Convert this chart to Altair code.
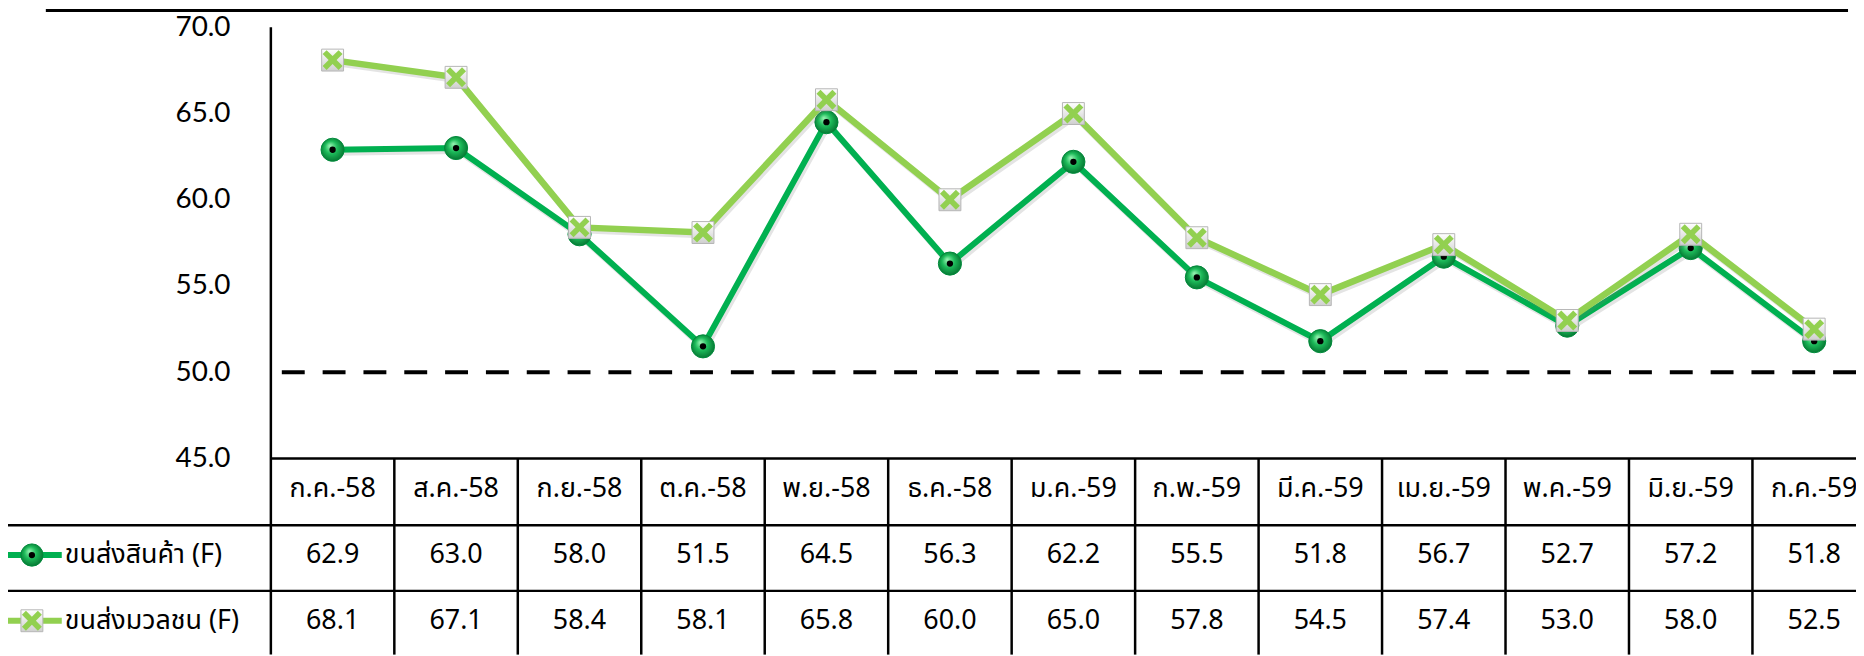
import altair as alt
import pandas as pd

# ---- data ----
months = ["ก.ค.-58", "ส.ค.-58", "ก.ย.-58", "ต.ค.-58", "พ.ย.-58", "ธ.ค.-58", "ม.ค.-59",
          "ก.พ.-59", "มี.ค.-59", "เม.ย.-59", "พ.ค.-59", "มิ.ย.-59", "ก.ค.-59"]
cargo = [62.9, 63.0, 58.0, 51.5, 64.5, 56.3, 62.2, 55.5, 51.8, 56.7, 52.7, 57.2, 51.8]
passenger = [68.1, 67.1, 58.4, 58.1, 65.8, 60.0, 65.0, 57.8, 54.5, 57.4, 53.0, 58.0, 52.5]
series_names = ["ขนส่งสินค้า (F)", "ขนส่งมวลชน (F)"]
y_ticks = [45, 50, 55, 60, 65, 70]
threshold = [50]

# ---- layout / style ----
W, H = 1592, 433
COL = 124
DARK = "#00B050"
LIGHT = "#92D050"
THAI = "Tahoma, 'Noto Sans Thai', 'Noto Sans', 'DejaVu Sans', sans-serif"
NUM = "'Noto Sans', Tahoma, sans-serif"
ROW_Y = [530, 596]
HEAD_Y = 464

idx = list(range(len(months)))
df_c = pd.DataFrame({"i": idx, "month": months, "v": cargo})
df_p = pd.DataFrame({"i": idx, "month": months, "v": passenger})
df_sep = pd.DataFrame({"b": [k + 0.5 for k in idx[:-1]]})
df_thr = pd.DataFrame({"v": threshold})
one = pd.DataFrame({"k": [0]})

xs = alt.Scale(domain=[-0.5, -0.5 + W / COL], nice=False, zero=False)
ys = alt.Scale(domain=[y_ticks[0], y_ticks[-1]], nice=False, zero=False)
yaxis = alt.Axis(values=y_ticks, format=".1f", labelFont="Lato", labelFontSize=28,
                 labelColor="black", labelPadding=41, domain=False, ticks=False,
                 grid=False, title=None)
X = alt.X("i:Q", scale=xs, axis=None)
Y = alt.Y("v:Q", scale=ys, axis=yaxis)

circle_fill = {"gradient": "radial",
               "stops": [{"offset": 0, "color": "#9af5b4"},
                         {"offset": 0.45, "color": "#1dbb5a"},
                         {"offset": 1, "color": "#006428"}],
               "x1": 0.38, "y1": 0.32, "r1": 0, "x2": 0.5, "y2": 0.5, "r2": 0.6}
square_fill = {"gradient": "linear",
               "stops": [{"offset": 0, "color": "#ffffff"},
                         {"offset": 1, "color": "#cfcfcf"}],
               "x1": 0, "y1": 0, "x2": 0, "y2": 1}
XPATH = "M-1,-0.6L-0.6,-1L0,-0.4L0.6,-1L1,-0.6L0.4,0L1,0.6L0.6,1L0,0.4L-0.6,1L-1,0.6L-0.4,0Z"

layers = []

# threshold dashed line
layers.append(alt.Chart(df_thr).mark_rule(color="black", strokeWidth=4, strokeDash=[23, 18])
              .encode(y=alt.Y("v:Q", scale=ys, axis=yaxis)))

# cargo series
c_base = alt.Chart(df_c).encode(x=X, y=Y)
layers.append(c_base.mark_line(color="#777777", strokeWidth=6, opacity=0.2, xOffset=2, yOffset=3))
layers.append(c_base.mark_line(color=DARK, strokeWidth=6))
layers.append(c_base.mark_point(shape="circle", size=540, filled=True, fill=circle_fill,
                                stroke="#008a3a", strokeWidth=1, opacity=1))
layers.append(c_base.mark_point(shape="circle", size=40, filled=True, color="black", opacity=1))

# passenger series
p_base = alt.Chart(df_p).encode(x=X, y=Y)
layers.append(p_base.mark_line(color="#777777", strokeWidth=6, opacity=0.2, xOffset=2, yOffset=3))
layers.append(p_base.mark_line(color=LIGHT, strokeWidth=6.5))
layers.append(p_base.mark_point(shape="square", size=484, filled=True, fill=square_fill,
                                stroke="#b5b5b5", strokeWidth=1, opacity=1))
layers.append(p_base.mark_point(shape=XPATH, size=400, filled=True, color=LIGHT, opacity=1))

# ---- axis line and table grid ----
layers.append(alt.Chart(one).mark_rule(color="black", strokeWidth=2.5)
              .encode(x=alt.value(0), y=alt.value(0), y2=alt.value(H + 197)))
layers.append(alt.Chart(one).mark_rule(color="black", strokeWidth=2.5)
              .encode(x=alt.value(0), x2=alt.value(W), y=alt.value(H)))
for yy in [500, 566]:
    layers.append(alt.Chart(one).mark_rule(color="black", strokeWidth=2.5)
                  .encode(x=alt.value(-272), x2=alt.value(W), y=alt.value(yy)))
layers.append(alt.Chart(df_sep).mark_rule(color="black", strokeWidth=2.5)
              .encode(x=alt.X("b:Q", scale=xs, axis=None), y=alt.value(H), y2=alt.value(H + 197)))
# top border of picture
layers.append(alt.Chart(one).mark_rule(color="black", strokeWidth=3)
              .encode(x=alt.value(-226), x2=alt.value(1584), y=alt.value(-17)))

# header months
layers.append(alt.Chart(df_c).mark_text(font=THAI, fontSize=27, color="black",
                                        align="center", baseline="middle")
              .encode(x=X, y=alt.value(HEAD_Y), text="month:N"))
# values rows
for df, yy in [(df_c, ROW_Y[0]), (df_p, ROW_Y[1])]:
    layers.append(alt.Chart(df).mark_text(font=NUM, fontSize=27, color="black",
                                          align="center", baseline="middle")
                  .encode(x=X, y=alt.value(yy), text=alt.Text("v:Q", format=".1f")))

# row headers with legend glyphs
df_n0 = pd.DataFrame({"name": [series_names[0]]})
df_n1 = pd.DataFrame({"name": [series_names[1]]})
layers.append(alt.Chart(df_n0).mark_rule(color=DARK, strokeWidth=6)
              .encode(x=alt.value(-268), x2=alt.value(-210), y=alt.value(ROW_Y[0])))
layers.append(alt.Chart(df_n0).mark_point(shape="circle", size=500, filled=True, fill=circle_fill,
                                          stroke="#008a3a", strokeWidth=1, opacity=1)
              .encode(x=alt.value(-240), y=alt.value(ROW_Y[0])))
layers.append(alt.Chart(df_n0).mark_point(shape="circle", size=40, filled=True, color="black", opacity=1)
              .encode(x=alt.value(-240), y=alt.value(ROW_Y[0])))
layers.append(alt.Chart(df_n1).mark_rule(color=LIGHT, strokeWidth=6)
              .encode(x=alt.value(-268), x2=alt.value(-210), y=alt.value(ROW_Y[1])))
layers.append(alt.Chart(df_n1).mark_point(shape="square", size=484, filled=True, fill=square_fill,
                                          stroke="#b5b5b5", strokeWidth=1, opacity=1)
              .encode(x=alt.value(-240), y=alt.value(ROW_Y[1])))
layers.append(alt.Chart(df_n1).mark_point(shape=XPATH, size=400, filled=True, color=LIGHT, opacity=1)
              .encode(x=alt.value(-240), y=alt.value(ROW_Y[1])))
for df, yy in [(df_n0, ROW_Y[0]), (df_n1, ROW_Y[1])]:
    layers.append(alt.Chart(df).mark_text(font=THAI, fontSize=27, color="black",
                                          align="left", baseline="middle")
                  .encode(x=alt.value(-207), y=alt.value(yy), text="name:N"))

chart = (alt.layer(*layers)
         .properties(width=W, height=H,
                     padding={"left": 264, "top": 18, "right": 0, "bottom": 197},
                     autosize=alt.AutoSizeParams(type="none"),
                     background="white")
         .configure_view(stroke=None))

chart.save("out.html", embed_options={"renderer": "svg", "actions": False})
